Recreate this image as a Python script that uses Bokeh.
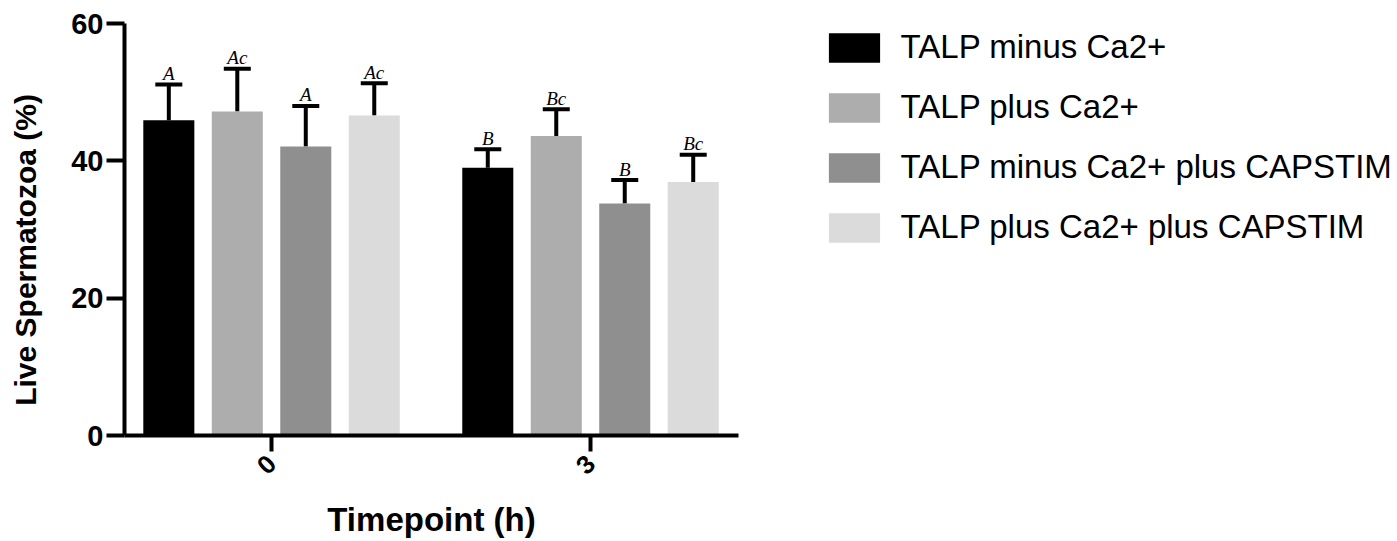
import math
from bokeh.plotting import figure
from bokeh.layouts import row
from bokeh.models import (ColumnDataSource, Range1d, FixedTicker, Whisker, TeeHead,
                          Legend, LegendItem)
from bokeh.core.properties import value
from bokeh.embed import file_html
from bokeh.resources import INLINE

# ---------------- data ----------------
timepoints = ["0", "3"]
series = ["TALP minus Ca2+", "TALP plus Ca2+",
          "TALP minus Ca2+ plus CAPSTIM", "TALP plus Ca2+ plus CAPSTIM"]
colors = ["#000000", "#adadad", "#8f8f8f", "#dbdbdb"]

talp_minus = [45.9, 39.0]
talp_plus = [47.2, 43.6]
talp_minus_capstim = [42.1, 33.8]
talp_plus_capstim = [46.6, 36.9]

sem_minus = [5.2, 2.7]
sem_plus = [6.2, 3.9]
sem_minus_capstim = [5.9, 3.4]
sem_plus_capstim = [4.7, 4.0]

letters_minus = ["A", "B"]
letters_plus = ["Ac", "Bc"]
letters_minus_capstim = ["A", "B"]
letters_plus_capstim = ["Ac", "Bc"]

y_title = "Live Spermatozoa (%)"
x_title = "Timepoint (h)"

means = [talp_minus, talp_plus, talp_minus_capstim, talp_plus_capstim]
sems = [sem_minus, sem_plus, sem_minus_capstim, sem_plus_capstim]
letters = [letters_minus, letters_plus, letters_minus_capstim, letters_plus_capstim]

H = 541
TOP, BOTTOM = 23, 105            # frame top / bottom borders (shared by all panels)
FRAME_BOTTOM = H - BOTTOM
LEFT_W = 55
MAIN_W = 693
LEG_W = 1397 - LEFT_W - MAIN_W


def strip(width, x_range, y_range):
    f = figure(width=width, height=H, x_range=x_range, y_range=y_range,
               output_backend="svg", toolbar_location=None,
               x_axis_location=None, y_axis_location=None,
               min_border_left=0, min_border_right=0,
               min_border_top=TOP, min_border_bottom=BOTTOM)
    f.grid.visible = False
    f.outline_line_color = None
    return f


# ---------------- y-axis title strip (pixel-matched coordinates) ----------------
pl = strip(LEFT_W, Range1d(0, LEFT_W), Range1d(FRAME_BOTTOM, TOP))
pl.text(x=[25], y=[250], text=[y_title], angle=math.pi / 2,
        text_font=value("Liberation Sans"), text_font_style="bold",
        text_font_size="30px", text_align="center", text_baseline="middle",
        text_color="black")

# ---------------- main chart ----------------
p = figure(width=MAIN_W, height=H,
           x_range=Range1d(-0.461, 1.464), y_range=Range1d(0, 60),
           output_backend="svg", toolbar_location=None,
           min_border_left=124 - LEFT_W, min_border_right=MAIN_W - (124 - LEFT_W) - 614,
           min_border_top=TOP, min_border_bottom=BOTTOM)
p.grid.visible = False
p.outline_line_color = None

pitch = 0.2147
bar_w = 0.16
sources = []
for i, (name, col, m, s, lab) in enumerate(zip(series, colors, means, sems, letters)):
    off = (i - 1.5) * pitch
    xs = [k + off for k in range(len(timepoints))]
    upper = [a + b for a, b in zip(m, s)]
    src = ColumnDataSource(dict(x=xs, top=m, upper=upper, lab=lab))
    sources.append(src)
    p.vbar(x="x", top="top", width=bar_w, source=src,
           fill_color=col, line_color=None)
    w = Whisker(source=src, base="x", lower="top", upper="upper",
                dimension="height", line_width=4, line_color="black",
                upper_head=TeeHead(size=27, line_width=4, line_color="black"),
                lower_head=None)
    p.add_layout(w)
    p.text(x="x", y="upper", text="lab", source=src,
           text_font=value("Liberation Serif"), text_font_style="italic",
           text_font_size="19px", text_align="center",
           text_baseline="alphabetic", y_offset=-11, text_color="black")

for ax in (p.xaxis[0], p.yaxis[0]):
    ax.axis_line_width = 4
    ax.axis_line_color = "black"
    ax.major_tick_line_width = 4
    ax.major_tick_line_color = "black"
    ax.major_tick_in = 0
    ax.minor_tick_line_color = None
    ax.major_label_text_font = "Liberation Sans"
    ax.major_label_text_font_style = "bold"
    ax.major_label_text_color = "black"
    ax.axis_label_text_font = "Liberation Sans"
    ax.axis_label_text_font_style = "bold"
    ax.axis_label_text_color = "black"

p.yaxis.ticker = FixedTicker(ticks=[0, 20, 40, 60])
p.yaxis.major_tick_out = 18
p.yaxis.major_label_text_font_size = "29px"
p.yaxis.major_label_standoff = 3

p.xaxis.ticker = FixedTicker(ticks=list(range(len(timepoints))))
p.xaxis.major_label_overrides = {k: t for k, t in enumerate(timepoints)}
p.xaxis.major_tick_out = 16
p.xaxis.major_label_text_font_size = "26px"
p.xaxis.major_label_orientation = math.pi / 4
p.xaxis.major_label_standoff = 8
p.xaxis.axis_label = x_title
p.xaxis.axis_label_text_font_size = "33px"
p.xaxis.axis_label_standoff = 16

# ---------------- legend strip ----------------
# legend-only renderers (hidden), reusing the bar data
pg = strip(LEG_W, Range1d(10, 11), Range1d(100, 101))
items = []
for name, col, src in zip(series, colors, sources):
    r = pg.vbar(x="x", top="top", width=bar_w, source=src,
                fill_color=col, line_color=None)
    r.visible = False
    items.append(LegendItem(label=name, renderers=[r]))
legend = Legend(items=items, location=(821.6 - (LEFT_W + MAIN_W), FRAME_BOTTOM - 247.3),
                glyph_width=64, glyph_height=37, label_standoff=15, spacing=22,
                padding=0, margin=0, border_line_color=None, background_fill_alpha=0,
                label_text_font="Liberation Sans", label_text_font_size="33px",
                label_text_color="black", click_policy="none")
pg.add_layout(legend)

layout = row(pl, p, pg, spacing=0)
open("out.html", "w").write(file_html(layout, INLINE))
